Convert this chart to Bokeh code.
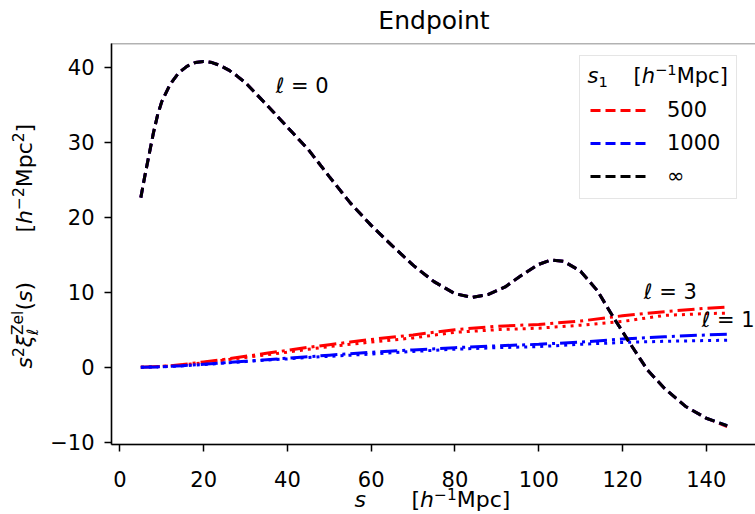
import math
from bokeh.plotting import figure
from bokeh.models import Range1d, FixedTicker, Label, Legend, LegendItem, BoxAnnotation
from bokeh.embed import file_html
from bokeh.resources import INLINE

# ---------------- data ----------------
s_l0 = [5, 6, 7, 8, 9, 10, 12, 14, 16, 18, 20, 22, 24, 26, 28, 30, 35, 40, 45, 50,
        55, 60, 65, 70, 75, 80, 84, 88, 92, 96, 100, 103, 106, 110, 114, 118, 122,
        126, 130, 135, 140, 145]
xi0_inf = [22.6, 25.6, 28.4, 31.2, 33.6, 35.4, 37.7, 39.2, 40.1, 40.6, 40.75, 40.6,
           40.2, 39.6, 38.8, 37.9, 35.0, 32.0, 29.0, 25.4, 21.9, 18.9, 16.2, 13.6,
           11.4, 9.8, 9.3, 9.7, 10.7, 12.3, 13.7, 14.3, 14.1, 12.8, 10.2, 6.5, 3.0,
           -0.4, -2.8, -5.2, -6.8, -7.8]
xi0_500 = [22.6, 25.6, 28.4, 31.2, 33.6, 35.4, 37.7, 39.2, 40.1, 40.6, 40.75, 40.6,
           40.2, 39.6, 38.8, 37.9, 35.0, 32.0, 29.0, 25.4, 21.9, 18.9, 16.2, 13.6,
           11.4, 9.8, 9.3, 9.7, 10.7, 12.3, 13.7, 14.3, 14.1, 12.8, 10.2, 6.5, 3.0,
           -0.4, -2.8, -5.2, -6.8, -7.9]
xi0_1000 = [22.6, 25.6, 28.4, 31.2, 33.6, 35.4, 37.7, 39.2, 40.1, 40.6, 40.75, 40.6,
            40.2, 39.6, 38.8, 37.9, 35.0, 32.0, 29.0, 25.4, 21.9, 18.9, 16.2, 13.6,
            11.4, 9.8, 9.3, 9.7, 10.7, 12.3, 13.7, 14.3, 14.1, 12.8, 10.2, 6.5, 3.0,
            -0.4, -2.8, -5.2, -6.8, -7.8]

s_l13 = [5, 10, 15, 20, 25, 30, 35, 40, 45, 50, 55, 60, 70, 80, 90, 100, 110, 120,
         130, 140, 145]
xi3_500 = [0, 0.1, 0.35, 0.7, 1.05, 1.45, 1.85, 2.25, 2.65, 3.0, 3.35, 3.7, 4.3,
           5.0, 5.45, 5.7, 6.15, 6.85, 7.4, 7.85, 8.0]
xi1_500 = [0, 0.1, 0.3, 0.6, 0.95, 1.3, 1.65, 2.0, 2.4, 2.75, 3.05, 3.35, 3.9,
           4.65, 5.0, 5.2, 5.6, 6.1, 6.9, 7.15, 7.2]
xi3_1000 = [0, 0.05, 0.2, 0.4, 0.6, 0.8, 1.0, 1.2, 1.4, 1.6, 1.8, 2.0, 2.3, 2.6,
            2.85, 3.05, 3.35, 3.75, 4.05, 4.3, 4.4]
xi1_1000 = [0, 0.05, 0.18, 0.35, 0.55, 0.75, 0.95, 1.1, 1.3, 1.45, 1.6, 1.75, 2.1,
            2.4, 2.6, 2.75, 3.05, 3.3, 3.45, 3.55, 3.6]

x_ticks = [0, 20, 40, 60, 80, 100, 120, 140]
y_ticks = [-10, 0, 10, 20, 30, 40]
legend_labels = ["500", "1000", "∞"]

# visible axes box (data units) and the canvas ranges around it
XMIN, XMAX = -2, 152
YMIN, YMAX = -10.3, 43.1

# ---------------- figure ----------------
W, H = 755, 514
FONT = "DejaVu Sans"

p = figure(width=W, height=H, x_range=Range1d(-28.50, 151.76),
           y_range=Range1d(-19.63, 48.87), output_backend="svg", toolbar_location=None,
           min_border=0, min_border_left=0, min_border_right=0, min_border_top=0,
           min_border_bottom=0)
p.title.visible = False
p.grid.visible = False
p.outline_line_color = None
p.background_fill_color = "white"
p.border_fill_color = "white"

p.xaxis.fixed_location = YMIN
p.yaxis.fixed_location = XMIN
p.xaxis.bounds = (XMIN, XMAX)
p.yaxis.bounds = (YMIN, YMAX)
for ax, ticks in ((p.xaxis, x_ticks), (p.yaxis, y_ticks)):
    ax.ticker = FixedTicker(ticks=ticks)
    ax.minor_tick_line_color = None
    ax.major_tick_out = 7
    ax.major_tick_in = 0
    ax.major_tick_line_width = 1.5
    ax.axis_line_width = 1.5
    ax.major_label_text_font = FONT
    ax.major_label_text_font_size = "21px"
    ax.major_label_text_color = "black"
p.xaxis.major_label_standoff = 20
p.yaxis.major_label_standoff = 10
p.yaxis.major_label_overrides = {-10: "−10"}

# top / right spines
p.add_layout(BoxAnnotation(left=XMIN, right=XMAX, bottom=YMIN, top=YMAX,
                           fill_alpha=0, line_color="black", line_width=1.5))

LW = 3
DASH = "10 5"
DASHDOT = "17 5 3 5"
DOT = "3 5"

r_red0 = p.line(s_l0, xi0_500, line_color="red", line_width=LW, line_dash=DASH)
p.line(s_l13, xi1_500, line_color="red", line_width=LW, line_dash=DOT)
p.line(s_l13, xi3_500, line_color="red", line_width=LW, line_dash=DASHDOT)
r_blue0 = p.line(s_l0, xi0_1000, line_color="blue", line_width=LW, line_dash=DASH)
p.line(s_l13, xi1_1000, line_color="blue", line_width=LW, line_dash=DOT)
p.line(s_l13, xi3_1000, line_color="blue", line_width=LW, line_dash=DASHDOT)
r_black0 = p.line(s_l0, xi0_inf, line_color="black", line_width=LW, line_dash=DASH)

legend = Legend(
    items=[LegendItem(label=legend_labels[0], renderers=[r_red0]),
           LegendItem(label=legend_labels[1], renderers=[r_blue0]),
           LegendItem(label=legend_labels[2], renderers=[r_black0])],
    location=(579, 315), margin=0, padding=10, spacing=9,
    glyph_width=57, glyph_height=24, label_height=24, label_width=59,
    label_standoff=20, label_text_font=FONT, label_text_font_size="21px",
    label_text_color="black",
    title=" ", title_text_font=FONT, title_text_font_size="21px", title_standoff=8,
    border_line_color="#cccccc", border_line_width=1,
    background_fill_alpha=0,
)
p.add_layout(legend)

# ---------------- texts ----------------
CW = {'[': 0.390, ']': 0.390, '(': 0.390, ')': 0.390, 'h': 0.634, 'M': 0.863,
      'p': 0.635, 'c': 0.550, 's': 0.521, '−': 0.838, '1': 0.636, '2': 0.636,
      'Z': 0.685, 'e': 0.615, 'l': 0.278, 'ξ': 0.56, 'ℓ': 0.42, ' ': 0.318}
BL = 0.346  # baseline correction (fraction of font size)


def tw(t, size):
    return sum(CW.get(c, 0.6) for c in t) * size


def compose(parts, x0, y0, vertical=False):
    """parts: (text, size, italic, shift, advance?) ; x0/y0 = baseline start, canvas px"""
    pos = 0.0
    for text, size, italic, shift, adv in parts:
        corr = BL * size
        if vertical:
            x, y, ang = x0 - shift - corr, y0 + pos, math.pi / 2
        else:
            x, y, ang = x0 + pos, y0 + shift + corr, 0.0
        p.add_layout(Label(x=x, y=y, x_units="screen", y_units="screen", text=text,
                           angle=ang, text_font=FONT, text_font_size=f"{size}px",
                           text_font_style="italic" if italic else "normal",
                           text_color="black", text_align="left",
                           text_baseline="alphabetic", level="overlay"))
        if adv:
            pos += tw(text, size)


F, f = 22, 15.4
SUP, SUB = 8.5, -6

# y-axis label (reads bottom to top)
compose([("s", F, True, 0, True), ("2", f, False, SUP, True), ("ξ", F, True, 0, True),
         ("ℓ", f, True, SUB, False), ("Zel", f, False, SUP, True),
         ("(", F, False, 0, True), ("s", F, True, 0, True), (")", F, False, 0, True)],
        31.7, 146, vertical=True)
compose([("[", F, False, 0, True), ("h", F, True, 0, True), ("−2", f, False, SUP, True),
         ("Mpc", F, False, 0, True), ("2", f, False, SUP, True), ("]", F, False, 0, True)],
        31.7, 282, vertical=True)

# x-axis label
compose([("s", F, True, 0, True)], 354, 7)
compose([("[", F, False, 0, True), ("h", F, True, 0, True), ("−1", f, False, SUP, True),
         ("Mpc", F, False, 0, True), ("]", F, False, 0, True)], 411, 7)

# legend title
compose([("s", 21, True, 0, True), ("1", 14.7, False, -4, True)], 587, 431)
compose([("[", 21, False, 0, True), ("h", 21, True, 0, True), ("−1", 14.7, False, 8, True),
         ("Mpc", 21, False, 0, True), ("]", 21, False, 0, True)], 633, 431)

# title
p.add_layout(Label(x=433.5, y=485.7 + BL * 25, x_units="screen", y_units="screen",
                   text="Endpoint", text_font=FONT, text_font_size="25px",
                   text_align="center", text_baseline="alphabetic", text_color="black",
                   level="overlay"))

# multipole annotations (data coordinates)
for txt, xx, yy in (("ℓ = 0", 37.2, 36.45), ("ℓ = 3", 125.1, 9.1), ("ℓ = 1", 138.9, 5.33)):
    p.add_layout(Label(x=xx, y=yy, y_offset=BL * 21, text=txt, text_font=FONT,
                       text_font_size="21px", text_align="left",
                       text_baseline="alphabetic", text_color="black", level="overlay"))

open("out.html", "w").write(file_html(p, INLINE))
